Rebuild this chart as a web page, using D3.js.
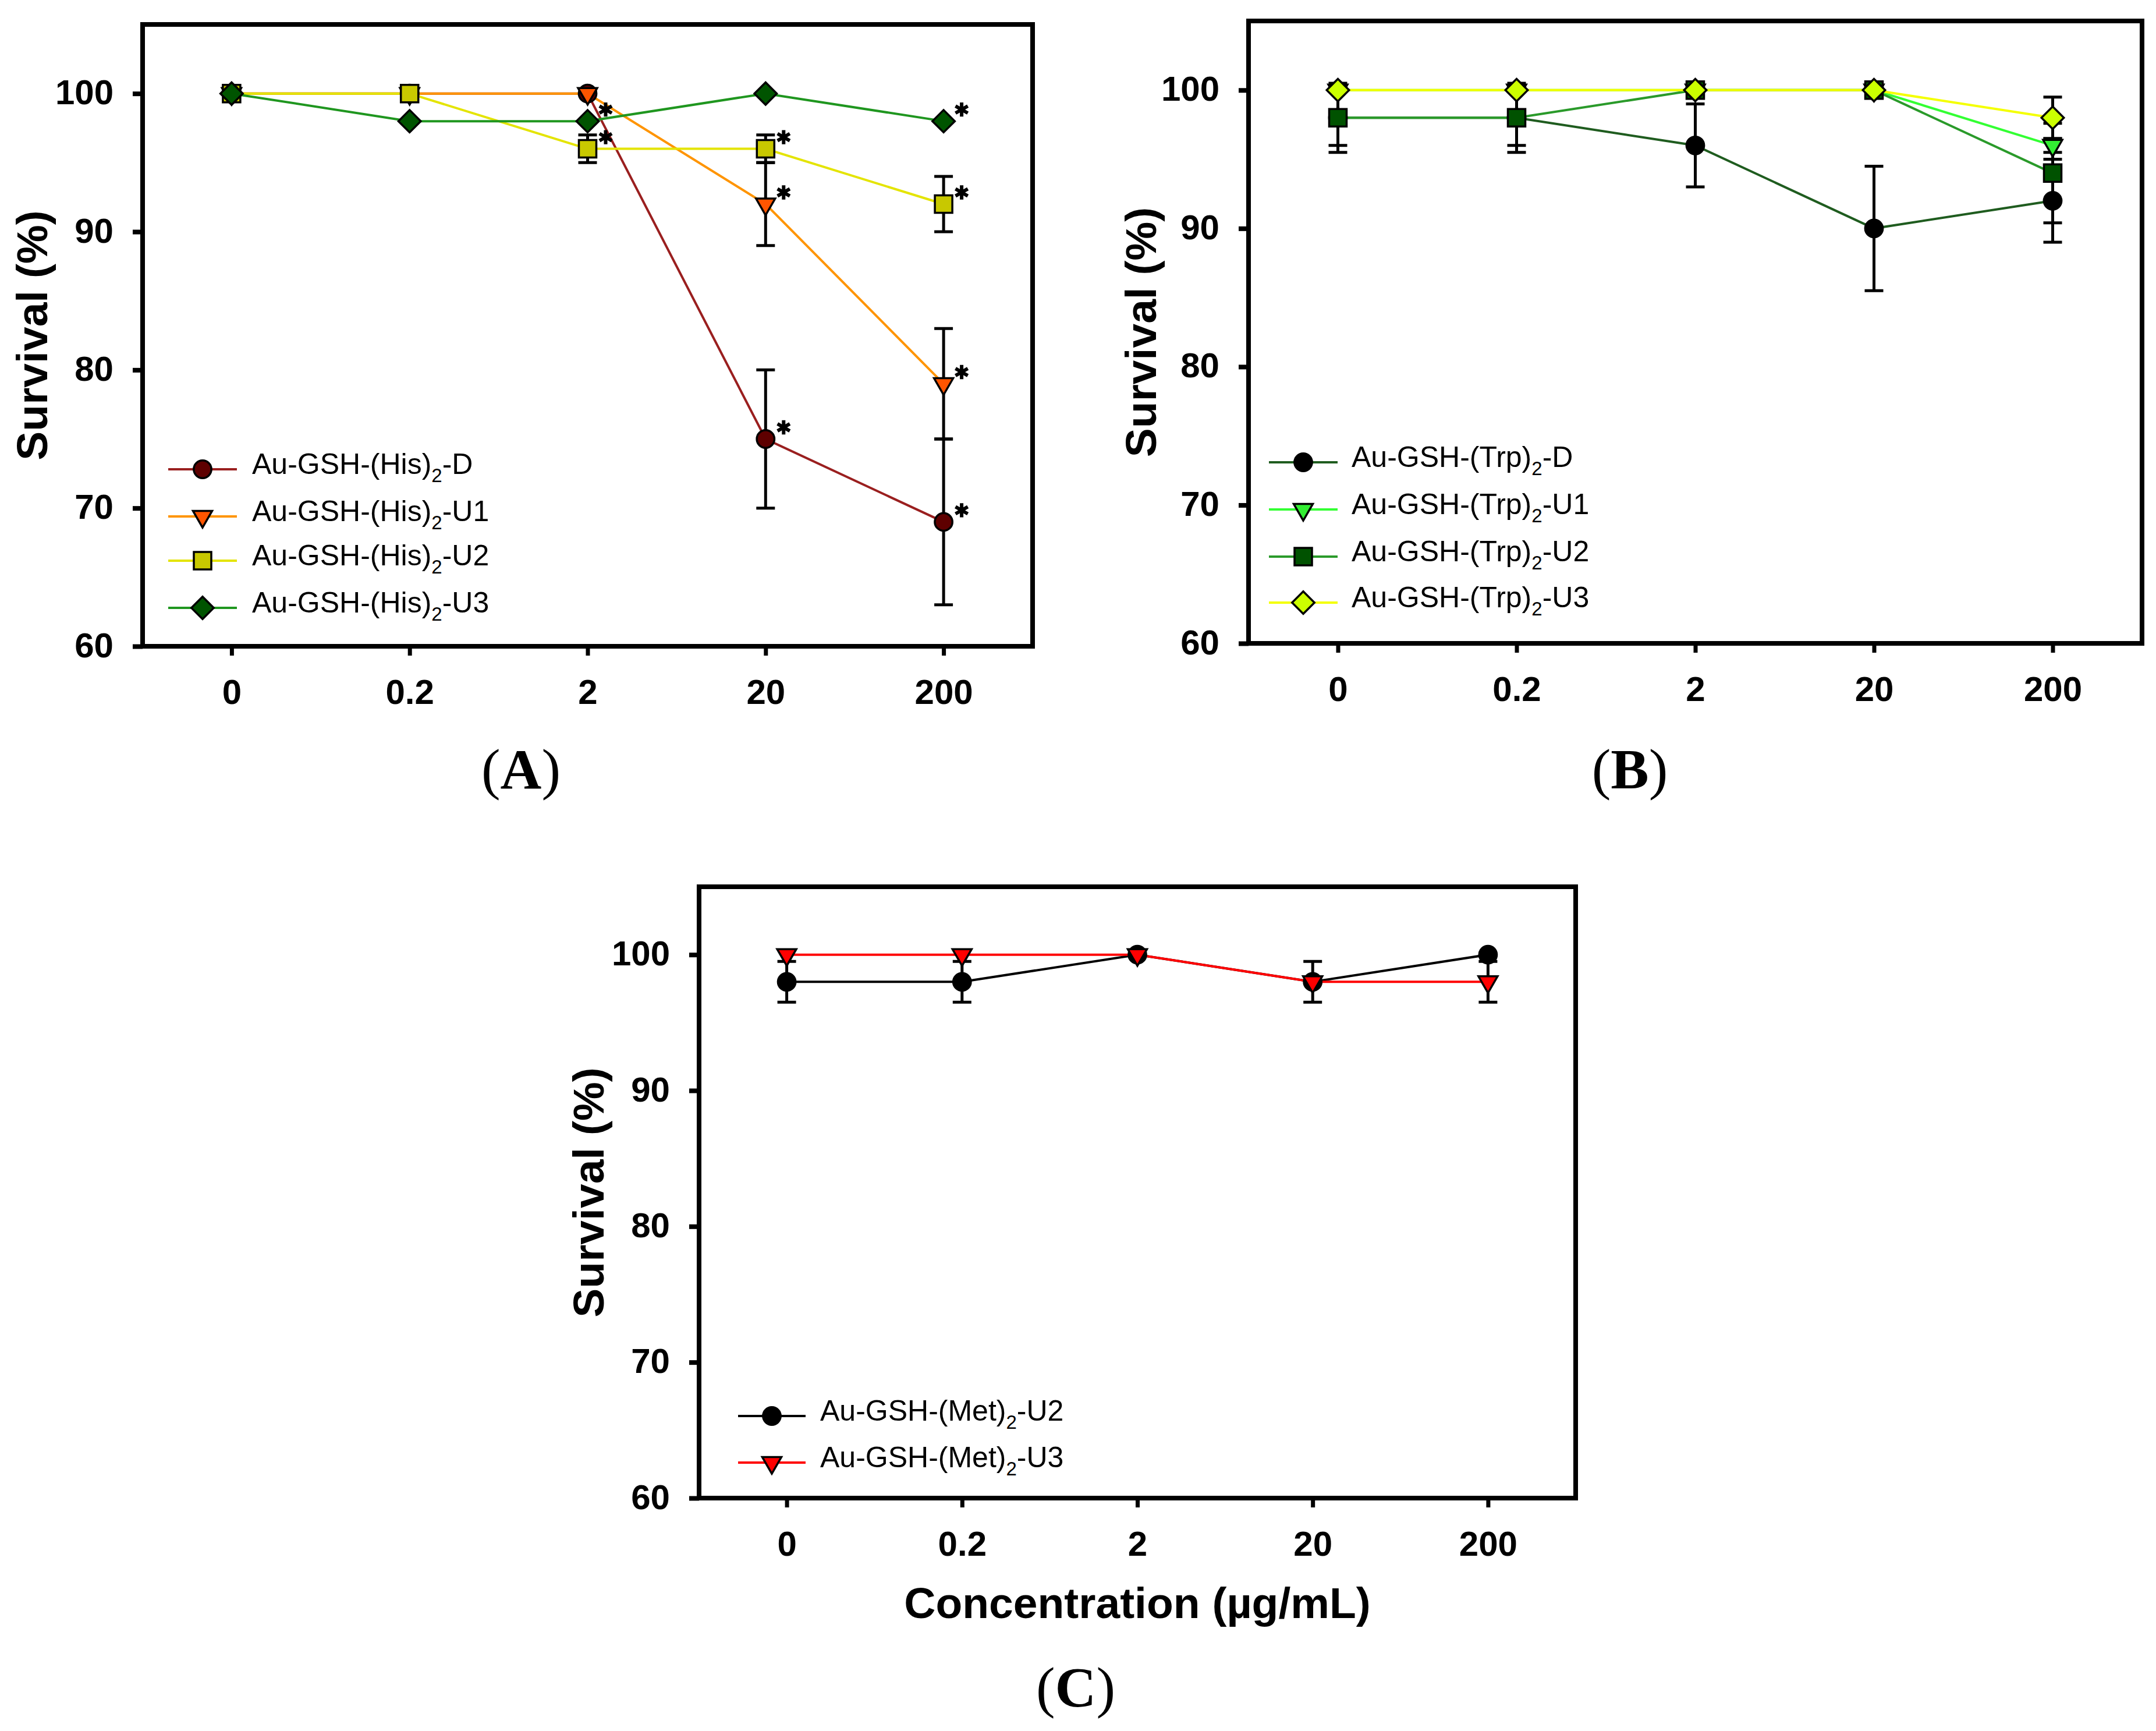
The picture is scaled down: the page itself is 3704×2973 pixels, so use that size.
<!DOCTYPE html>
<html><head><meta charset="utf-8">
<script src="https://cdn.jsdelivr.net/npm/d3@7"></script>
<style>body{margin:0;background:#fff}</style>
</head><body>
<svg id="fig" width="3704" height="2973" xmlns="http://www.w3.org/2000/svg"></svg>
<script>
// ---------------- DATA ----------------
const concentrations = ["0", "0.2", "2", "20", "200"];
const yTicks = [60, 70, 80, 90, 100];
const yDomain = [60, 105];

// Panel A: Au-GSH-(His)2
const hisVariants = ["D", "U1", "U2", "U3"];
const hisD     = [100, 100, 100, 75, 69];
const hisDErr  = [0, 0, 0, 5, 6];
const hisDSig  = [0, 0, 0, 1, 1];
const hisU1    = [100, 100, 100, 92, 79];
const hisU1Err = [0, 0, 0, 3, 4];
const hisU1Sig = [0, 0, 0, 1, 1];
const hisU2    = [100, 100, 96, 96, 92];
const hisU2Err = [0, 0, 1, 1, 2];
const hisU2Sig = [0, 0, 1, 1, 1];
const hisU3    = [100, 98, 98, 100, 98];
const hisU3Err = [0, 0, 0, 0, 0];
const hisU3Sig = [0, 0, 1, 0, 1];

// Panel B: Au-GSH-(Trp)2
const trpVariants = ["D", "U1", "U2", "U3"];
const trpD     = [98, 98, 96, 90, 92];
const trpDErr  = [2, 2, 3, 4.5, 3];
const trpU1    = [100, 100, 100, 100, 96];
const trpU1Err = [0, 0, 0, 0, 0.5];
const trpU2    = [98, 98, 100, 100, 94];
const trpU2Err = [2.5, 2.5, 0, 0, 3.6];
const trpU3    = [100, 100, 100, 100, 98];
const trpU3Err = [0, 0, 0, 0, 1.5];

// Panel C: Au-GSH-(Met)2
const metVariants = ["U2", "U3"];
const metU2    = [98, 98, 100, 98, 100];
const metU2Err = [1.5, 1.5, 0, 1.5, 0];
const metU3    = [100, 100, 100, 98, 98];
const metU3Err = [0, 0, 0, 0, 1.5];

const yTitle = "Survival (%)";
const xTitle = "Concentration (\u00b5g/mL)";
const panelLetters = ["A", "B", "C"];

// ---------------- STYLE / LAYOUT ----------------
const none = [0, 0, 0, 0, 0];
const panels = [
  {
    letter: panelLetters[0], amino: "His", x0: 245, x1: 1774, y0: 42, y1: 1110,
    titleX: 81, legLine: [289, 407], legText: 433, legRows: [806, 887, 963, 1044],
    labelPos: [895, 1354], xTitle: false,
    series: [
      { v: hisVariants[0], values: hisD,  err: hisDErr,  sig: hisDSig,  line: "#9a1f1f", fill: "#5e0000", shape: "circle" },
      { v: hisVariants[1], values: hisU1, err: hisU1Err, sig: hisU1Sig, line: "#ff9400", fill: "#ff5500", shape: "triDown" },
      { v: hisVariants[2], values: hisU2, err: hisU2Err, sig: hisU2Sig, line: "#e4e400", fill: "#c8c800", shape: "square" },
      { v: hisVariants[3], values: hisU3, err: hisU3Err, sig: hisU3Sig, line: "#1f961f", fill: "#005400", shape: "diamond" }
    ]
  },
  {
    letter: panelLetters[1], amino: "Trp", x0: 2145, x1: 3680, y0: 36, y1: 1105,
    titleX: 1986, legLine: [2180, 2298], legText: 2322, legRows: [794, 875, 956, 1035],
    labelPos: [2800, 1354], xTitle: false,
    series: [
      { v: trpVariants[0], values: trpD,  err: trpDErr,  sig: none, line: "#1f5c1f", fill: "#000000", shape: "circle" },
      { v: trpVariants[1], values: trpU1, err: trpU1Err, sig: none, line: "#33ff33", fill: "#33ee33", shape: "triDown" },
      { v: trpVariants[2], values: trpU2, err: trpU2Err, sig: none, line: "#2a9a2a", fill: "#005200", shape: "square" },
      { v: trpVariants[3], values: trpU3, err: trpU3Err, sig: none, line: "#f4ff00", fill: "#ccff00", shape: "diamond" }
    ]
  },
  {
    letter: panelLetters[2], amino: "Met", x0: 1201, x1: 2707, y0: 1523, y1: 2573,
    titleX: 1037, legLine: [1268, 1384], legText: 1409, legRows: [2432, 2512],
    labelPos: [1848, 2931], xTitle: true,
    series: [
      { v: metVariants[0], values: metU2, err: metU2Err, sig: none, line: "#000000", fill: "#000000", shape: "circle" },
      { v: metVariants[1], values: metU3, err: metU3Err, sig: none, line: "#ff0000", fill: "#ff0000", shape: "triDown" }
    ]
  }
];

const SANS = "'Liberation Sans', Arial, Helvetica, sans-serif";
const SERIF = "'Liberation Serif', 'Times New Roman', serif";

const symbolOf = {
  circle:  { type: d3.symbolCircle,   size: 720, rot: 0 },
  triDown: { type: d3.symbolTriangle, size: 470, rot: 180 },
  square:  { type: d3.symbolSquare,   size: 900, rot: 0 },
  diamond: { type: d3.symbolSquare,   size: 740, rot: 45 }
};
const astType = d3.symbolAsterisk || d3.symbolCross;

const svg = d3.select("#fig");
svg.append("rect").attr("width", 3704).attr("height", 2973).attr("fill", "#fff");

function addLabel(sel, amino, variant, fs) {
  sel.append("tspan").text("Au-GSH-(" + amino + ")");
  sel.append("tspan").attr("font-size", fs * 0.66).attr("dy", fs * 0.28).text("2");
  sel.append("tspan").attr("dy", -fs * 0.28).text("-" + variant);
}

panels.forEach(p => {
  const g = svg.append("g");
  const x = d3.scalePoint().domain(concentrations).range([p.x0, p.x1]).padding(0.5);
  const y = d3.scaleLinear().domain(yDomain).range([p.y1, p.y0]);

  // axes
  const ya = g.append("g").attr("transform", `translate(${p.x0},0)`)
    .call(d3.axisLeft(y).tickValues(yTicks).tickSize(17).tickPadding(33).tickFormat(d3.format("d")));
  ya.select(".domain").remove();
  ya.selectAll("line").attr("stroke", "#000").attr("stroke-width", 8);
  ya.selectAll("text").attr("font-family", SANS).attr("font-weight", "bold")
    .attr("font-size", 60).attr("fill", "#000").attr("dy", "0.3em");

  const xa = g.append("g").attr("transform", `translate(0,${p.y1})`)
    .call(d3.axisBottom(x).tickSize(16).tickPadding(40));
  xa.select(".domain").remove();
  xa.selectAll("line").attr("stroke", "#000").attr("stroke-width", 7);
  xa.selectAll("text").attr("font-family", SANS).attr("font-weight", "bold")
    .attr("font-size", 60).attr("fill", "#000");

  // frame
  g.append("rect").attr("x", p.x0).attr("y", p.y0)
    .attr("width", p.x1 - p.x0).attr("height", p.y1 - p.y0)
    .attr("fill", "none").attr("stroke", "#000").attr("stroke-width", 8);

  // y title
  g.append("text").attr("transform", `translate(${p.titleX},${(p.y0 + p.y1) / 2}) rotate(-90)`)
    .attr("text-anchor", "middle").attr("font-family", SANS).attr("font-weight", "bold")
    .attr("font-size", 75).attr("fill", "#000").text(yTitle);

  if (p.xTitle) {
    g.append("text").attr("x", (p.x0 + p.x1) / 2).attr("y", p.y1 + 206)
      .attr("text-anchor", "middle").attr("font-family", SANS).attr("font-weight", "bold")
      .attr("font-size", 75).attr("fill", "#000").text(xTitle);
  }

  const line = d3.line().x((d, i) => x(concentrations[i])).y(d => y(d));

  // lines
  p.series.forEach(s => {
    g.append("path").datum(s.values).attr("d", line)
      .attr("fill", "none").attr("stroke", s.line).attr("stroke-width", 4);
  });

  // error bars
  p.series.forEach(s => {
    s.values.forEach((v, i) => {
      const e = s.err[i];
      if (!e) return;
      const cx = x(concentrations[i]);
      const eg = g.append("g").attr("stroke", "#000").attr("stroke-width", 5);
      eg.append("line").attr("x1", cx).attr("x2", cx).attr("y1", y(v - e)).attr("y2", y(v + e));
      [v - e, v + e].forEach(b => {
        eg.append("line").attr("x1", cx - 16).attr("x2", cx + 16).attr("y1", y(b)).attr("y2", y(b));
      });
    });
  });

  // markers
  p.series.forEach(s => {
    const sym = symbolOf[s.shape];
    const path = d3.symbol().type(sym.type).size(sym.size)();
    g.selectAll(null).data(s.values).enter().append("path")
      .attr("d", path)
      .attr("transform", (d, i) => `translate(${x(concentrations[i])},${y(d)}) rotate(${sym.rot})`)
      .attr("fill", s.fill).attr("stroke", "#000").attr("stroke-width", 3.5);
  });

  // significance asterisks
  p.series.forEach(s => {
    const ast = d3.symbol().type(astType).size(420)();
    s.values.forEach((v, i) => {
      if (!s.sig[i]) return;
      g.append("path").attr("d", ast)
        .attr("transform", `translate(${x(concentrations[i]) + 31},${y(v) - 20})`)
        .attr("fill", "#000").attr("stroke", "#000").attr("stroke-width", 6);
    });
  });

  // legend
  p.series.forEach((s, k) => {
    const ry = p.legRows[k];
    const lg = g.append("g");
    lg.append("line").attr("x1", p.legLine[0]).attr("x2", p.legLine[1]).attr("y1", ry).attr("y2", ry)
      .attr("stroke", s.line).attr("stroke-width", 4);
    const sym = symbolOf[s.shape];
    lg.append("path").attr("d", d3.symbol().type(sym.type).size(sym.size)())
      .attr("transform", `translate(${(p.legLine[0] + p.legLine[1]) / 2},${ry}) rotate(${sym.rot})`)
      .attr("fill", s.fill).attr("stroke", "#000").attr("stroke-width", 3.5);
    const t = lg.append("text").attr("x", p.legText).attr("y", ry + 8)
      .attr("font-family", SANS).attr("font-size", 50).attr("fill", "#000");
    addLabel(t, p.amino, s.v, 50);
  });

  // panel letter
  const lt = svg.append("text").attr("x", p.labelPos[0]).attr("y", p.labelPos[1])
    .attr("text-anchor", "middle").attr("font-family", SERIF).attr("font-size", 98).attr("fill", "#000");
  lt.append("tspan").text("(");
  lt.append("tspan").attr("font-weight", "bold").text(p.letter);
  lt.append("tspan").text(")");
});
</script>
</body></html>
